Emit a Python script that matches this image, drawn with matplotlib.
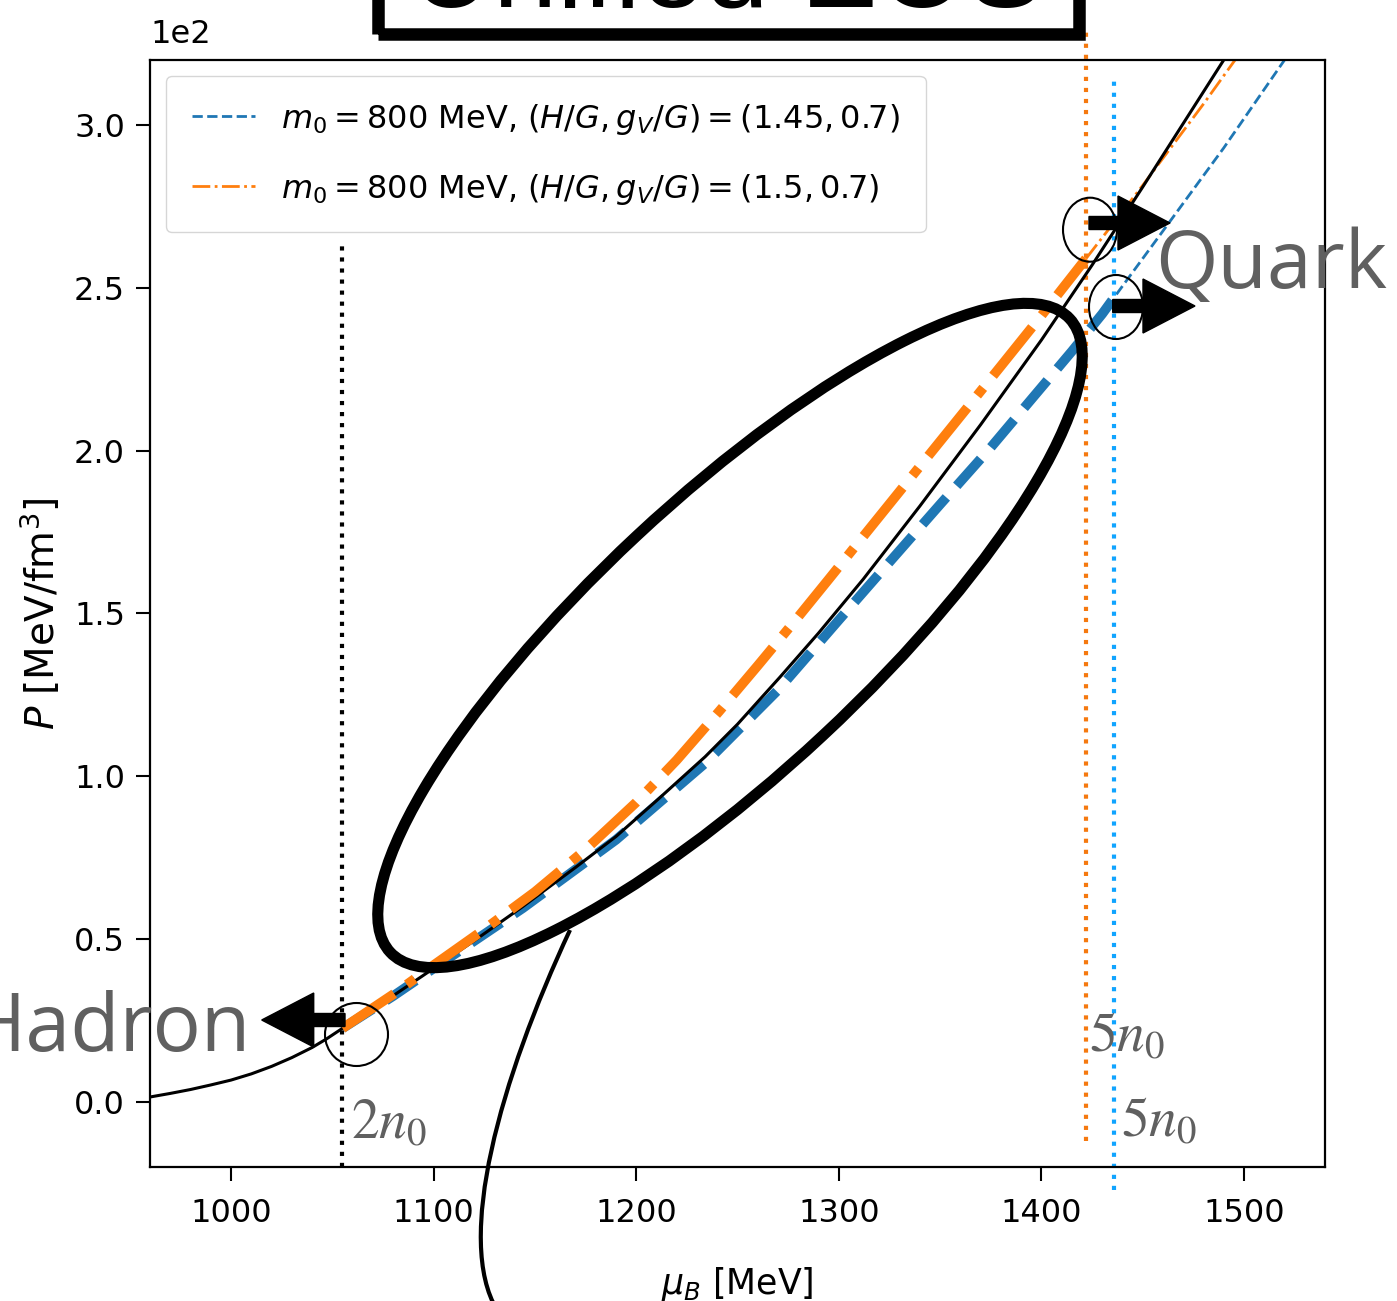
import numpy as np
import matplotlib.pyplot as plt
from matplotlib.patches import Ellipse, Rectangle, FancyArrow, PathPatch
from matplotlib.path import Path

# pressure vs baryon chemical potential, P in MeV/fm^3, mu_B in MeV
mu_unified = [960, 970, 980, 990, 1000, 1010, 1020, 1030, 1040, 1047, 1055, 1065, 1080,
              1100, 1120, 1144, 1170, 1190, 1210, 1234, 1250, 1271, 1290, 1312, 1340,
              1370, 1400, 1425, 1450, 1470, 1490, 1500]
p_unified = [1.5, 2.6, 3.8, 5.2, 6.7, 8.6, 10.9, 13.6, 16.7, 19.3, 22.6, 26.6, 32.6,
             41.0, 49.5, 60.0, 72.0, 81.5, 92.5, 106.0, 116.0, 130.5, 144.0, 160.5,
             183.0, 208.0, 234.0, 257.0, 281.0, 300.5, 320.0, 330.0]

# H/G = 1.45: crossover region (2n0 - 5n0) and quark matter above 5n0
mu_blue_mix = [1055, 1080, 1100, 1144, 1190, 1234, 1270, 1300, 1326, 1350, 1375, 1396,
               1415, 1430, 1437]
p_blue_mix = [22.6, 32.5, 41.0, 59.5, 80.5, 104.0, 126.5, 148.0, 166.5, 183.5, 201.0,
              216.5, 230.5, 242.0, 248.0]
mu_blue_quark = [1437, 1460, 1490, 1520, 1545]
p_blue_quark = [248.0, 267.5, 293.0, 320.0, 342.0]

# H/G = 1.5
mu_orange_mix = [1055, 1080, 1100, 1125, 1150, 1175, 1200, 1220, 1241, 1260, 1280, 1295,
                 1306, 1330, 1356, 1380, 1400, 1410, 1422]
p_orange_mix = [22.6, 33.0, 42.0, 53.0, 64.5, 77.5, 92.0, 105.0, 120.0, 134.0, 149.0,
                160.5, 169.0, 187.5, 207.5, 226.0, 241.5, 249.5, 259.0]
mu_orange_quark = [1422, 1450, 1480, 1495, 1520]
p_orange_quark = [259.0, 281.5, 306.5, 319.5, 340.0]

labels = [r'$m_0 = 800$ MeV, $(H/G, g_V/G) = (1.45, 0.7)$',
          r'$m_0 = 800$ MeV, $(H/G, g_V/G) = (1.5, 0.7)$']

mu_2n0 = 1055
mu_5n0_blue = 1436
mu_5n0_orange = 1422

xticks = [1000, 1100, 1200, 1300, 1400, 1500]
yticks = [0, 50, 100, 150, 200, 250, 300]

c_blue = '#1f77b4'
c_orange = '#ff7f0e'
grey = '#606060'

fig = plt.figure(figsize=(13.97, 13.01), dpi=100)
ax = fig.add_axes([0.1074, 0.103, 0.8411, 0.8509])

ax.plot(mu_blue_mix, p_blue_mix, color=c_blue, ls='--', lw=7, zorder=2)
ax.plot(mu_unified, p_unified, color='k', lw=2.2, zorder=2.5)
ax.plot(mu_orange_mix, p_orange_mix, color=c_orange, ls='-.', lw=7, zorder=3)
ax.plot(mu_blue_quark, p_blue_quark, color=c_blue, ls='--', lw=2, label=labels[0])
ax.plot(mu_orange_quark, p_orange_quark, color=c_orange, ls='-.', lw=2, label=labels[1])

# density markers
ax.plot([mu_2n0, mu_2n0], [-20, 263], color='k', ls=':', lw=3, clip_on=False)
ax.plot([mu_5n0_orange, mu_5n0_orange], [-12, 329], color='#f5790f', ls=':', lw=3,
        clip_on=False)
ax.plot([mu_5n0_blue, mu_5n0_blue], [-27, 314], color='#10a4ff', ls=':', lw=3,
        clip_on=False)

ax.text(1059, -11, r'$2n_0$', fontsize=40, color=grey, math_fontfamily='stix')
ax.text(1423.5, 15.5, r'$5n_0$', fontsize=40, color=grey, math_fontfamily='stix')
ax.text(1439.5, -10.5, r'$5n_0$', fontsize=40, color=grey, math_fontfamily='stix')

ax.set_xlim(960, 1540)
ax.set_ylim(-20, 320)
ax.set_xticks(xticks)
ax.set_yticks(yticks)
ax.ticklabel_format(axis='y', style='sci', scilimits=(0, 0))
ax.yaxis.OFFSETTEXTPAD = 12
ax.yaxis.get_offset_text().set_fontsize(23)
ax.tick_params(labelsize=23, length=10, width=1.5)
ax.tick_params(axis='x', pad=12)
ax.tick_params(axis='y', pad=8)
for s in ax.spines.values():
    s.set_linewidth(1.6)
ax.set_xlabel(r'$\mu_B$ [MeV]', fontsize=25, labelpad=26)
ax.set_ylabel(r'$P$ [MeV/fm$^3$]', fontsize=28, labelpad=8)

ax.legend(loc='upper left', fontsize=23, labelspacing=1.1, borderpad=0.8,
          borderaxespad=0.5)

# annotations drawn in figure inches (100 px per inch)
tr = fig.dpi_scale_trans
H = 13.01


def px(x, y):
    return x / 100, H - y / 100


fig.add_artist(Ellipse(px(730, 635.5), 9.29, 2.73, angle=43, fill=False, lw=8,
                       ec='k', transform=tr))
verts = [px(570, 930), px(500, 1080), px(455, 1240), px(497, 1310)]
fig.add_artist(PathPatch(Path(verts, [Path.MOVETO, Path.CURVE4, Path.CURVE4, Path.CURVE4]),
                         fill=False, lw=3, ec='k', transform=tr))

for cx, cy, w, h in [(356.5, 1034.5, 63, 63), (1090, 229.7, 54, 64), (1116, 307, 54, 64)]:
    fig.add_artist(Ellipse(px(cx, cy), w / 100, h / 100, fill=False, lw=1.5, ec='k',
                           transform=tr))

for x0, x1, y in [(345, 261.7, 1020), (1089, 1170, 223), (1112.7, 1195, 306)]:
    xa, ya = px(x0, y)
    xb, _ = px(x1, y)
    fig.add_artist(FancyArrow(xa, ya, xb - xa, 0, width=0.13, head_width=0.54,
                              head_length=0.52, length_includes_head=True,
                              color='k', transform=tr))

fig.text(*px(250, 1051), 'Hadron', ha='right', va='baseline', fontsize=58,
         color=grey, family='Open Sans', transform=tr)
fig.text(*px(1155, 288), 'Quark', ha='left', va='baseline', fontsize=58,
         color=grey, family='Open Sans', transform=tr)

fig.add_artist(Rectangle(px(378, 34), 7.01, 1.0, fill=False, lw=9, ec='k', transform=tr))
fig.text(*px(727, 7), 'Unified EOS', ha='center', va='baseline', fontsize=83,
         color='k', family='Liberation Sans', transform=tr)

fig.savefig('out.png', dpi=100)
